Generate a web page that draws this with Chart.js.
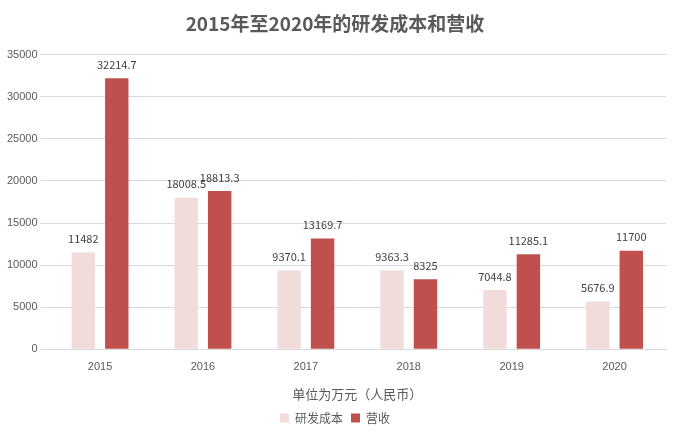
<!DOCTYPE html>
<html>
<head>
<meta charset="utf-8">
<script src="https://cdn.jsdelivr.net/npm/chart.js@4"></script>
<style>
  html, body { margin: 0; padding: 0; background: #fff; }
  #wrap { width: 678px; height: 444px; }
</style>
</head>
<body>
<div id="wrap"><canvas id="myChart"></canvas></div>
<script>
var years = ['2015', '2016', '2017', '2018', '2019', '2020'];
var rdCost = [11482, 18008.5, 9370.1, 9363.3, 7044.8, 5676.9];
var revenue = [32214.7, 18813.3, 13169.7, 8325, 11285.1, 11700];

// labels above each bar
var barLabels = {
  id: 'barLabels',
  afterDatasetsDraw: function(chart) {
    var ctx = chart.ctx;
    ctx.save();
    ctx.font = '11px "Noto Sans CJK SC", sans-serif';
    ctx.fillStyle = '#404040';
    ctx.textAlign = 'center';
    ctx.textBaseline = 'bottom';
    chart.data.datasets.forEach(function(ds, i) {
      chart.getDatasetMeta(i).data.forEach(function(bar, j) {
        ctx.fillText(ds.data[j], bar.x, bar.y - 8);
      });
    });
    ctx.restore();
  }
};

document.addEventListener('DOMContentLoaded', function() {
  var ctx = document.getElementById('myChart').getContext('2d');
  new Chart(ctx, {
    type: 'bar',
    data: {
      labels: years,
      datasets: [
        { label: '研发成本', data: rdCost, backgroundColor: '#f2dcdb' },
        { label: '营收', data: revenue, backgroundColor: '#c0504d' }
      ]
    },
    options: {
      responsive: true,
      maintainAspectRatio: false,
      animation: false,
      layout: { padding: { left: 4, right: 12, top: 6, bottom: 10 } },
      datasets: { bar: { barPercentage: 0.7, categoryPercentage: 0.65 } },
      plugins: {
        title: {
          display: true,
          text: '2015年至2020年的研发成本和营收',
          color: '#595959',
          font: { family: '"Noto Sans CJK SC", sans-serif', size: 19, weight: 'bold' },
          padding: { top: 6, bottom: 20 }
        },
        legend: {
          position: 'bottom',
          labels: {
            boxWidth: 9, boxHeight: 9, padding: 8,
            color: '#595959',
            font: { family: '"Noto Sans CJK SC", sans-serif', size: 12 }
          }
        },
        tooltip: { enabled: false }
      },
      scales: {
        x: {
          grid: { display: false },
          border: { color: '#d9d9d9' },
          ticks: { color: '#595959', font: { size: 11 } },
          title: {
            display: true,
            text: '单位为万元（人民币）',
            color: '#595959',
            font: { family: '"Noto Sans CJK SC", sans-serif', size: 13 },
            padding: { top: 10, bottom: 2 }
          }
        },
        y: {
          min: 0, max: 35000,
          ticks: {
            stepSize: 5000, color: '#595959', font: { size: 11 },
            callback: function(v) { return String(v); }
          },
          grid: { color: '#d9d9d9' },
          border: { display: false }
        }
      }
    },
    plugins: [barLabels]
  });
});
</script>
</body>
</html>
